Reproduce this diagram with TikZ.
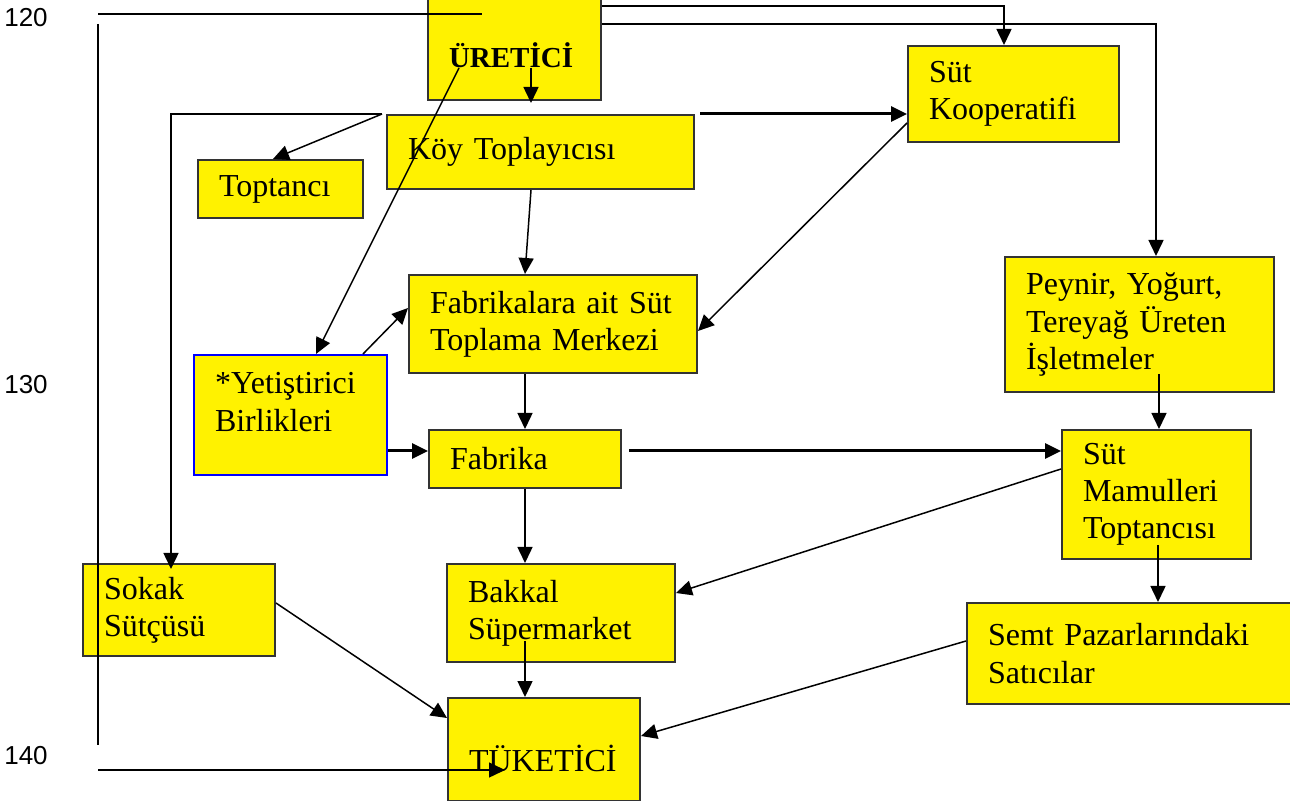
\documentclass[tikz,border=0pt]{standalone}
\usepackage{fontspec}
\setmainfont{Liberation Serif}
\newfontfamily\numfont{Liberation Sans}
\usetikzlibrary{arrows.meta}

\tikzset{
  box/.style={draw=black!80, line width=1pt, fill=yellow, anchor=north west, align=left,
    inner xsep=10.5pt, inner ysep=0pt, font=\fontsize{16}{18.6}\selectfont},
  fat/.style={line width=1.5pt},
  num/.style={font=\numfont\fontsize{13}{15}\selectfont}
}

\begin{document}
\begin{tikzpicture}[x=0.5pt, y=-0.5pt, line width=0.75pt, >={Triangle[length=8pt,width=7.5pt]}]
  \useasboundingbox (0,0) rectangle (1290,801);

  % year marks on the left
  \node [num] (lbl120) at (26,18) {120};
  \node [num] (lbl130) at (26,385) {130};
  \node [num] (lbl140) at (26,756) {140};
  \coordinate (c120) at (98,14);
  \coordinate (c140) at (98,770);

  % boxes
  \node [box, text width=65.5pt, minimum height=51.5pt, text height=23pt, text depth=3.5pt,
    font=\fontsize{14.5}{17}\selectfont\bfseries] (uretici) at (427,-4) {ÜRETİCİ};
  \node [box, text width=132.5pt, minimum height=37pt] (koy) at (386,114) {Köy Toplayıcısı};
  \node [box, text width=61.5pt, minimum height=29pt] (toptanci) at (197,159) {Toptancı};
  \node [box, text width=84.5pt, minimum height=48pt] (koop) at (907,45) {Süt\\Kooperatifi};
  \node [box, text width=123pt, minimum height=49pt] (merkez) at (408,274) {Fabrikalara ait Süt\\Toplama Merkezi};
  \node [box, text width=113.5pt, minimum height=67.5pt] (peynir) at (1004,256) {Peynir, Yoğurt,\\Tereyağ Üreten\\İşletmeler};
  \node [box, draw=blue, text width=75.5pt, minimum height=60pt, text height=11pt, text depth=32pt] (birlik) at (193,354) {*Yetiştirici\\Birlikleri};
  \node [box, text width=75pt, minimum height=29pt] (fabrika) at (428,429) {Fabrika};
  \node [box, text width=73.5pt, minimum height=64.5pt] (mamul) at (1061,429) {Süt\\Mamulleri\\Toptancısı};
  \node [box, text width=75pt, minimum height=46pt] (sokak) at (82,563) {Sokak\\Sütçüsü};
  \node [box, text width=93pt, minimum height=49pt] (bakkal) at (446,563) {Bakkal\\Süpermarket};
  \node [box, text width=149pt, minimum height=50.5pt] (semt) at (966,602) {Semt Pazarlarındaki\\Satıcılar};
  \node [box, text width=75pt, minimum height=51.5pt, text height=25pt, text depth=3.5pt] (tuketici) at (447,697) {TÜKETİCİ};

  % frame lines
  \draw (c120) -- ++(384,0);
  \draw ([yshift=-5pt]c120) -- ([yshift=12.5pt]c140);
  \draw [->] (c140) -- ++(407,0);

  % from the producer
  \draw [->] ([yshift=-5pt]uretici.north east) -| ([xshift=-4.75pt]koop.north);
  \draw [->] ([yshift=-14pt]uretici.north east) -| ([xshift=8.25pt]peynir.north);
  \draw [->] ([xshift=8.25pt,yshift=-9.75pt]uretici.center) -- ([xshift=-4.75pt,yshift=5.5pt]koy.north);
  \draw [->] ([xshift=-27.75pt,yshift=-9.75pt]uretici.center) -- ([xshift=12.75pt]birlik.north);

  % village collector
  \draw [->] ([xshift=-2pt]koy.north west) -- ([xshift=-3.75pt]toptanci.north);
  \draw [->] ([xshift=-2pt]koy.north west) -| ([xshift=-4pt,yshift=-3pt]sokak.north);
  \draw [->, fat] ([xshift=2.5pt]koy.north east) -- (koy.north east -| koop.west);
  \draw [->] ([xshift=-4.75pt]koy.south) -- ([xshift=-14pt]merkez.north);

  % collection centre and factory
  \draw [->] ([yshift=-14.5pt]koop.west) -- ([yshift=-3.5pt]merkez.east);
  \draw [->] ([xshift=36.25pt]birlik.north) -- ([yshift=8pt]merkez.west);
  \draw [->, fat] ([yshift=-18pt]birlik.east) -- ([yshift=4pt]fabrika.west);
  \draw [->] ([xshift=-14pt]merkez.south) -- (fabrika.north);
  \draw [->, fat] ([xshift=3.5pt,yshift=4pt]fabrika.east) -- ([yshift=21.75pt]mamul.west);
  \draw [->] ([xshift=9.75pt,yshift=9.5pt]peynir.south) -- ([xshift=1.25pt]mamul.north);

  % towards the consumer
  \draw [->] ([yshift=12.75pt]mamul.west) -- ([yshift=10pt]bakkal.east);
  \draw [->] (fabrika.south) -- (fabrika.south |- bakkal.north);
  \draw [->] ([xshift=0.75pt,yshift=7.5pt]mamul.south) -- ([xshift=10.5pt]semt.north);
  \draw [->] ([yshift=3.5pt]sokak.east) -- ([yshift=15.75pt]tuketici.west);
  \draw [->] ([xshift=-18pt,yshift=-14pt]bakkal.center) -- ([xshift=-9.5pt]tuketici.north);
  \draw [->] ([yshift=6.25pt]semt.west) -- ([yshift=6.75pt]tuketici.east);
\end{tikzpicture}
\end{document}
